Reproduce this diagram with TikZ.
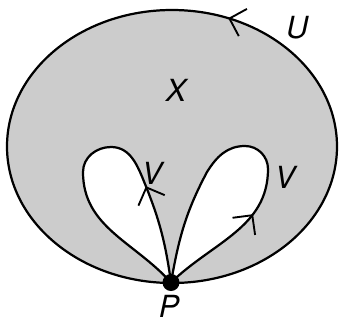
\documentclass[tikz,border=0pt]{standalone}
\usepackage{fontspec}
\setmainfont{TeX Gyre Heros}
\usetikzlibrary{arrows.meta,decorations.markings}
\tikzset{
  curve/.style={line width=1.9pt,line join=round},
  barb/.style={decoration={markings,mark=at position #1 with {\arrow[line width=1.6pt]{Straight Barb[length=0.42cm,width=0.85cm]}}},postaction={decorate}},
  lbl/.style={font=\fontsize{26}{28}\selectfont\itshape,inner sep=0pt}
}
\begin{document}
\begin{tikzpicture}[x=0.03cm,y=0.03cm]
\useasboundingbox (0,0) rectangle (340,324);
\coordinate (c) at (172,177.5);
\coordinate (P) at (171,41.5);
% region X with its boundary U
\draw[curve,fill=black!20,barb=0.19] (c) ellipse [x radius=165,y radius=136.5];
% the two loops V
\draw[curve,fill=white,barb=0.29] (P) to[out=98,in=-68] (145,140) to[out=112,in=0] (111,177)
  to[out=180,in=90] (83,152) to[out=-90,in=132] (P);
\draw[curve,fill=white,barb=0.3] (P) to[out=44,in=-90] (268,155) to[out=90,in=0] (245,178)
  to[out=180,in=58] (207,152) to[out=-118,in=80] (P);
\fill (P) circle[radius=8.5];
\node[lbl] (U) at (297,296) {U};
\node[lbl] (X) at (176,234) {X};
\node[lbl] (V1) at (152,151) {V};
\node[lbl] (V2) at (285,147) {V};
\node[lbl] (Pl) at (169,18) {P};
\end{tikzpicture}
\end{document}
